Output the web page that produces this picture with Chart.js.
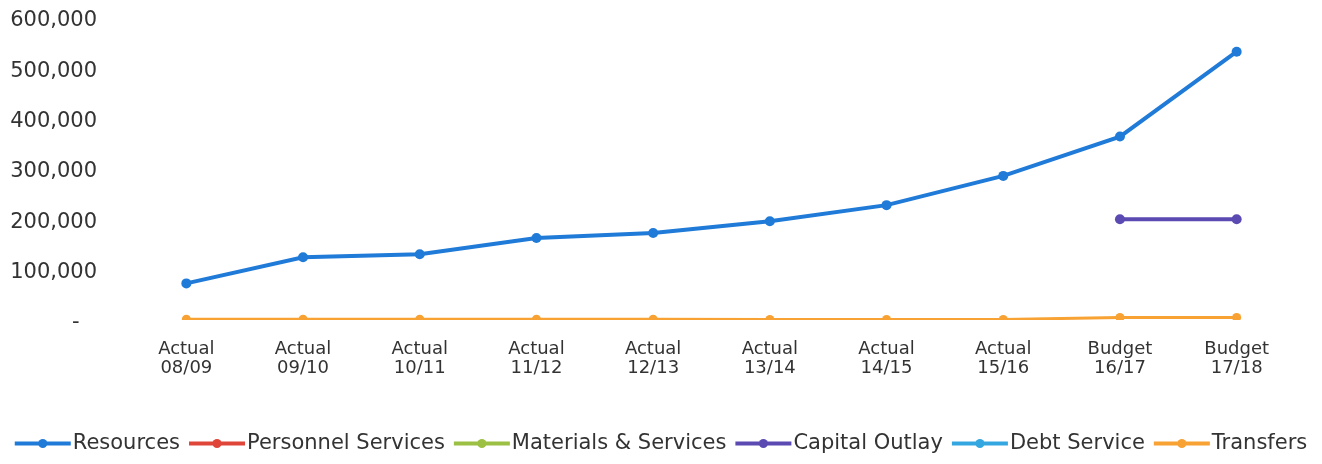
<!DOCTYPE html>
<html>
<head>
<meta charset="utf-8">
<script src="https://cdn.jsdelivr.net/npm/chart.js@4/dist/chart.umd.min.js"></script>
<style>
  html, body { margin: 0; padding: 0; background: #ffffff; }
  #wrap { width: 1322px; height: 464px; position: relative; }
</style>
</head>
<body>
<div id="wrap"><canvas id="chart"></canvas></div>
<script>
// Fiscal periods and their status
const phases = ['Actual', 'Actual', 'Actual', 'Actual', 'Actual', 'Actual', 'Actual', 'Actual', 'Budget', 'Budget'];
const periods = ['08/09', '09/10', '10/11', '11/12', '12/13', '13/14', '14/15', '15/16', '16/17', '17/18'];

// Series values
const resources = [72700, 124700, 130700, 162800, 172800, 196200, 228200, 286300, 364400, 533100];
const personnelServices = [null, null, null, null, null, null, null, null, null, null];
const materialsServices = [null, null, null, null, null, null, null, null, null, null];
const capitalOutlay = [null, null, null, null, null, null, null, null, 200000, 200000];
const debtService = [null, null, null, null, null, null, null, null, null, null];
const transfers = [1500, 1500, 1500, 1500, 1500, 1000, 1000, 1000, 5000, 5000];

// Value axis ticks
const yTicks = [0, 100000, 200000, 300000, 400000, 500000, 600000];

const labels = phases.map((p, i) => [p, periods[i]]);

const FONT = "'DejaVu Sans', sans-serif";
const TEXT = '#333333';
const LEGEND_LINE = 56;

function series(label, data, color, width, radius) {
  return {
    label, data,
    borderColor: color, backgroundColor: color,
    borderWidth: width,
    pointRadius: radius, pointHoverRadius: radius,
    pointBackgroundColor: color, pointBorderColor: color, pointBorderWidth: 0,
    tension: 0, spanGaps: false
  };
}

// Draws a line-with-marker swatch in front of each legend label
const legendLines = {
  id: 'legendLines',
  afterDraw(chart) {
    const lg = chart.legend;
    if (!lg || !lg.legendHitBoxes) return;
    const ctx = chart.ctx;
    lg.legendItems.forEach((item, i) => {
      const hb = lg.legendHitBoxes[i];
      const ds = chart.data.datasets[item.datasetIndex];
      const cy = hb.top + hb.height / 2;
      ctx.save();
      ctx.strokeStyle = ds.borderColor;
      ctx.lineWidth = 4;
      ctx.beginPath();
      ctx.moveTo(hb.left, cy);
      ctx.lineTo(hb.left + LEGEND_LINE, cy);
      ctx.stroke();
      ctx.fillStyle = ds.borderColor;
      ctx.beginPath();
      ctx.arc(hb.left + LEGEND_LINE / 2, cy, 4.5, 0, Math.PI * 2);
      ctx.fill();
      ctx.restore();
    });
  }
};

new Chart(document.getElementById('chart'), {
  type: 'line',
  data: {
    labels,
    datasets: [
      series('Resources', resources, '#1f7ad8', 4, 5),
      series('Personnel Services', personnelServices, '#e0453a', 3, 4),
      series('Materials & Services', materialsServices, '#9cc043', 3, 4),
      series('Capital Outlay', capitalOutlay, '#5a4ab2', 4, 5),
      series('Debt Service', debtService, '#35a7e0', 3, 4),
      series('Transfers', transfers, '#f7a233', 3, 4.5)
    ]
  },
  options: {
    responsive: true,
    maintainAspectRatio: false,
    animation: false,
    events: [],
    layout: { padding: { top: 18, right: 0, bottom: 0, left: 0 } },
    scales: {
      x: {
        offset: true,
        grid: { display: false, drawTicks: false },
        border: { display: false },
        ticks: {
          color: TEXT,
          padding: 19,
          font: { family: FONT, size: 18, lineHeight: 1.1 },
          maxRotation: 0, autoSkip: false
        },
        afterFit(scale) { scale.height = 104; scale.paddingLeft = 0; scale.paddingRight = 0; }
      },
      y: {
        min: yTicks[0],
        max: yTicks[yTicks.length - 1],
        grid: { display: false, drawTicks: false },
        border: { display: false },
        afterBuildTicks(scale) { scale.ticks = yTicks.map(v => ({ value: v })); },
        ticks: {
          color: TEXT,
          padding: 31,
          labelOffset: 3,
          font: { family: FONT, size: 21 },
          callback: v => v === 0 ? '-  \u2009' : v.toLocaleString('en-US')
        },
        afterFit(scale) { scale.width = 128; scale.paddingTop = 0; scale.paddingBottom = 0; }
      },
      // empty right-hand margin axis
      yRight: {
        position: 'right',
        grid: { display: false, drawTicks: false },
        border: { display: false },
        ticks: { display: false },
        afterFit(scale) { scale.width = 27; scale.paddingTop = 0; scale.paddingBottom = 0; }
      }
    },
    plugins: {
      tooltip: { enabled: false },
      legend: {
        position: 'bottom',
        labels: {
          color: TEXT,
          font: { family: FONT, size: 21 },
          boxWidth: 47.5,
          boxHeight: 3,
          padding: 9,
          generateLabels(chart) {
            const items = Chart.defaults.plugins.legend.labels.generateLabels(chart);
            items.forEach(it => {
              it.fillStyle = 'rgba(0,0,0,0)';
              it.strokeStyle = 'rgba(0,0,0,0)';
              it.lineWidth = 0;
            });
            return items;
          }
        }
      }
    }
  },
  plugins: [legendLines]
});
</script>
</body>
</html>
